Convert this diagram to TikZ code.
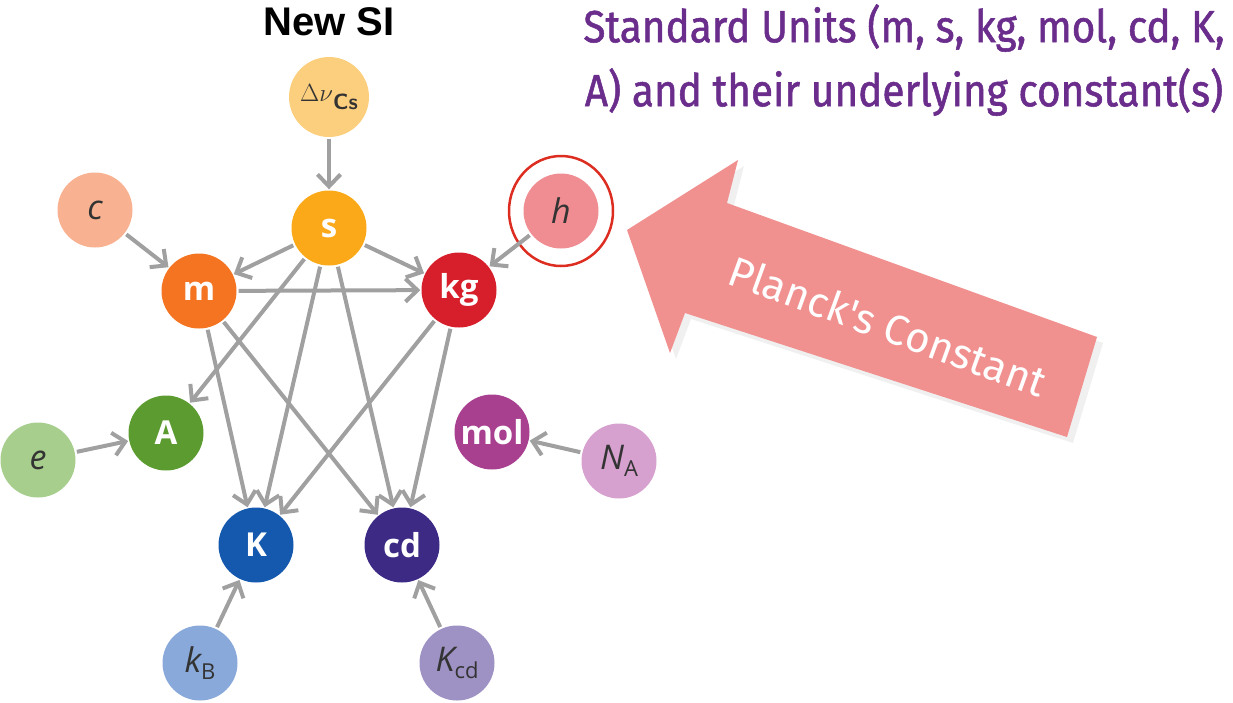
\documentclass[tikz,border=0pt]{standalone}
\usepackage[no-math]{fontspec}
\setmainfont{Open Sans}
\newfontfamily\titlefont{Liberation Sans}
\newfontfamily\roundfont[FakeStretch=0.9,FakeBold=1.2]{Fira Sans}
\newfontfamily\arrowfont{Fira Sans}
\usetikzlibrary{arrows.meta}
\definecolor{dnucol}{HTML}{FCCF7E}
\definecolor{scol}{HTML}{FBA919}
\definecolor{ccol}{HTML}{F8B291}
\definecolor{mcol}{HTML}{F47421}
\definecolor{kgcol}{HTML}{D71F2B}
\definecolor{hcol}{HTML}{EF8D92}
\definecolor{Acol}{HTML}{5B9B2F}
\definecolor{ecol}{HTML}{A7CE8D}
\definecolor{molcol}{HTML}{A8408F}
\definecolor{NAcol}{HTML}{D6A0CF}
\definecolor{Kcol}{HTML}{1559AF}
\definecolor{cdcol}{HTML}{3D2A85}
\definecolor{kBcol}{HTML}{88A9D9}
\definecolor{Kcdcol}{HTML}{9E91C3}
\definecolor{linkgray}{HTML}{A0A0A0}
\definecolor{ringred}{HTML}{DD2C20}
\definecolor{arrowpink}{HTML}{F0908F}
\definecolor{textpurple}{HTML}{6A2D8C}
\definecolor{constdark}{HTML}{333333}
\newcommand{\lowidx}[1]{\raisebox{-0.35ex}{\fontsize{22}{22}\selectfont\upshape #1}}
\tikzset{
  unit/.style={circle, minimum size=75pt, inner sep=0pt, text=white,
    font=\bfseries\fontsize{33}{33}\selectfont},
  const/.style={circle, minimum size=75pt, inner sep=0pt, text=constdark,
    font=\fontsize{34}{34}\selectfont\itshape},
  link/.style={draw=linkgray, line width=4pt, shorten <=2pt, shorten >=1pt,
    -{Straight Barb[length=12pt,width=23pt]}}
}
\begin{document}
\begin{tikzpicture}[x=1pt,y=-1pt]
  \useasboundingbox (0,0) rectangle (1233,702);
  %titoli
  \node[font=\titlefont\bfseries\fontsize{40}{40}\selectfont] (title) at (329,22) {New SI};
  \node[font=\roundfont\fontsize{45}{64}\selectfont, text=textpurple, align=center]
    (legend) at (904,60) {Standard Units (m, s, kg, mol, cd, K,\\A) and their underlying constant(s)};
  %unita
  \node[unit, fill=scol] (s) at (329,228) {s};
  \node[unit, fill=mcol] (m) at (199,291) {m};
  \node[unit, fill=kgcol] (kg) at (459,290) {kg};
  \node[unit, fill=Acol] (A) at (166,433) {A};
  \node[unit, fill=molcol] (mol) at (492,432) {mol};
  \node[unit, fill=Kcol] (K) at (256,545) {K};
  \node[unit, fill=cdcol] (cd) at (402,545) {cd};
  %costanti
  \node[const, fill=dnucol, minimum size=80pt, font=\fontsize{42}{42}\selectfont] (dnu) at (329,97)
    {$\Delta\nu$\lowidx{\sffamily\bfseries Cs}};
  \node[const, fill=ccol] (c) at (95,210) {c};
  \node[const, fill=hcol] (h) at (561,211) {h};
  \node[const, fill=ecol] (e) at (38,460) {e};
  \node[const, fill=NAcol] (NA) at (619,461) {N\lowidx{A}};
  \node[const, fill=kBcol] (kB) at (200,663) {k\lowidx{B}};
  \node[const, fill=Kcdcol] (Kcd) at (457,663) {K\lowidx{cd}};
  %anello
  \draw[ringred, line width=2.5pt] (h) ellipse [x radius=52, y radius=55];
  %frecce
  \foreach \from/\to in {dnu/s, c/m, s/m, s/kg, h/kg, m/kg, s/A, s/K, s/cd,
      m/K, m/cd, kg/K, kg/cd, e/A, NA/mol, kB/K, Kcd/cd}
    \draw[link] (\from) -- (\to);
  %freccia grande
  \fill[black, opacity=0.06] (633,236) -- (744,166) -- (733,209) -- (1103,343)
    -- (1073,443) -- (691,319) -- (676,359) -- cycle;
  \fill[arrowpink] (627,230) -- (738,160) -- (727,203) -- (1097,337)
    -- (1067,437) -- (685,313) -- (670,353) -- cycle;
  \node[rotate=-20, text=white, font=\arrowfont\fontsize{42}{42}\selectfont] (planck)
    at (888,326) {Planck's Constant};
\end{tikzpicture}
\end{document}
